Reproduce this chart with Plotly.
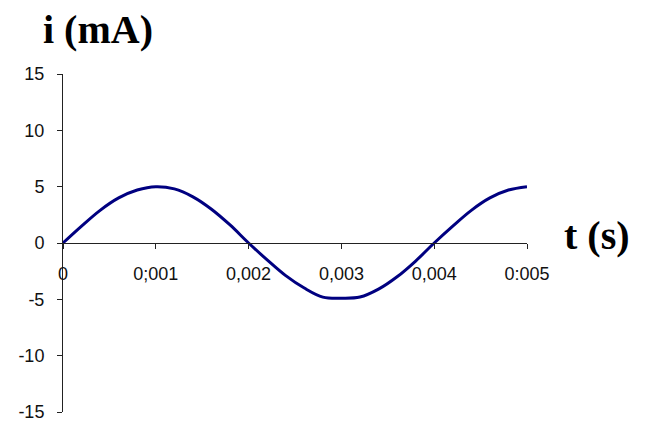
import plotly.graph_objects as go

t_values = [0, 0.0002, 0.0004, 0.0006, 0.0008, 0.001, 0.0012, 0.0014, 0.0016, 0.0018,
            0.002, 0.0022, 0.0024, 0.0026, 0.0028, 0.003, 0.0032, 0.0034, 0.0036, 0.0038,
            0.004, 0.0042, 0.0044, 0.0046, 0.0048, 0.005]
i_values = [0, 1.5, 2.9, 4.0, 4.7, 5.0, 4.8, 4.1, 3.0, 1.6,
            0.0, -1.5, -2.9, -4.0, -4.8, -4.9, -4.8, -4.1, -3.0, -1.6,
            0.0, 1.5, 2.9, 4.0, 4.7, 5.0]

x_tickvals = [0, 0.001, 0.002, 0.003, 0.004, 0.005]
x_ticktext = ["0", "0;001", "0,002", "0,003", "0,004", "0:005"]
y_tickvals = [-15, -10, -5, 0, 5, 10, 15]
y_ticktext = ["-15", "-10", "-5", "0", "5", "10", "15"]

# page body adds an 8px offset; figure coordinates are screen minus 8
OFF = 8
W, H = 646, 423
ML, MT = 63 - OFF, 74 - OFF
MR = W - (527 - OFF)
MB = H - (412 - OFF)
PW, PH = W - ML - MR, H - MT - MB

fig = go.Figure()
fig.add_trace(go.Scatter(x=t_values, y=i_values, mode="lines",
                         line=dict(color="#000080", width=3, shape="spline"),
                         hoverinfo="skip", showlegend=False))

serif = "Liberation Serif, Times New Roman, serif"
fig.update_layout(
    width=W, height=H,
    margin=dict(l=ML, r=MR, t=MT, b=MB, autoexpand=False),
    paper_bgcolor="white", plot_bgcolor="white",
    font=dict(family="Liberation Sans, Arial, sans-serif", size=18, color="#111"),
    xaxis=dict(range=[0, 0.005], tickvals=x_tickvals, ticktext=x_ticktext,
               showgrid=False, zeroline=False, showline=True, linecolor="#222",
               linewidth=1, ticks="outside", ticklen=5, tickcolor="#222",
               anchor="free", position=0.5, ticklabelstandoff=9, automargin=False),
    yaxis=dict(range=[-15, 15], tickvals=y_tickvals, ticktext=y_ticktext, showgrid=False,
               zeroline=False, showline=True, linecolor="#222", linewidth=1,
               ticks="outside", ticklen=5, tickcolor="#222", ticklabelstandoff=9,
               automargin=False),
    annotations=[
        dict(text="<b>i (mA)</b>", x=(41 - OFF - ML) / PW, y=1 + (MT - (29 - OFF)) / PH,
             xref="paper", yref="paper",
             showarrow=False, xanchor="left", yanchor="middle",
             font=dict(family=serif, size=40, color="black")),
        dict(text="<b>t (s)</b>", x=(562 - OFF - ML) / PW, y=1 - ((235 - OFF) - MT) / PH,
             xref="paper", yref="paper",
             showarrow=False, xanchor="left", yanchor="middle",
             font=dict(family=serif, size=40, color="black")),
    ],
)

fig.write_html("out.html")
